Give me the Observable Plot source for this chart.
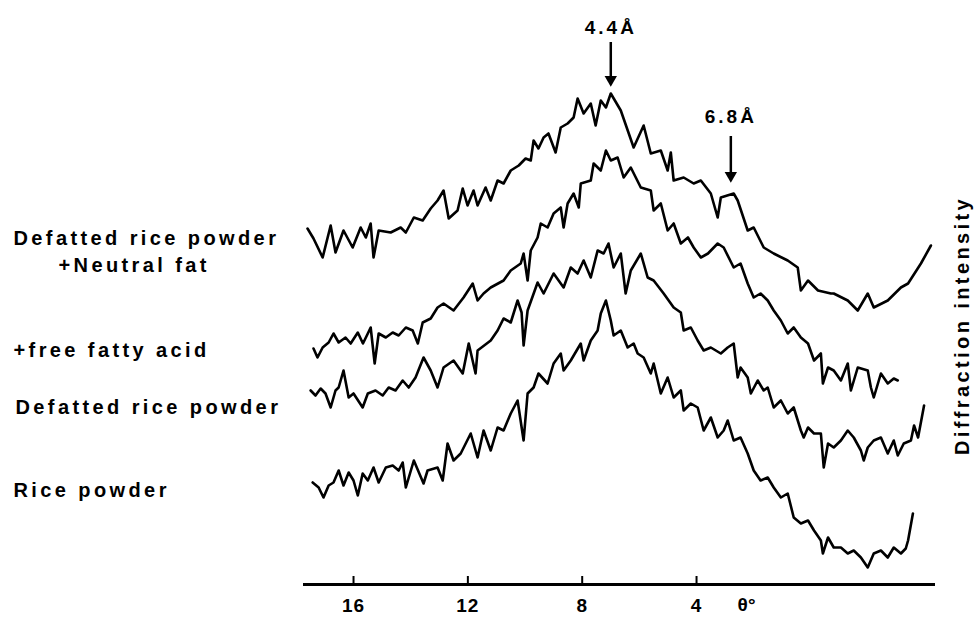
<!DOCTYPE html>
<html>
<head>
<meta charset="utf-8">
<script src="https://cdn.jsdelivr.net/npm/d3@7"></script>
<script src="https://cdn.jsdelivr.net/npm/@observablehq/plot@0.6"></script>
<style>
  html, body { margin: 0; padding: 0; background: #fff; }
  #chart { width: 974px; height: 617px; }
</style>
</head>
<body>
<div id="chart"></div>
<script>
// X-ray diffraction traces: diffraction angle θ (degrees) vs intensity (arbitrary units, offset per sample)

// Defatted rice powder + neutral fat
const neutralFat = [[17.61,356],[17.40,346],[17.08,327],[16.80,359],[16.63,332],[16.35,354],[16.03,337],[15.75,357],[15.57,347],[15.40,361],[15.30,327],[15.12,354],[14.70,352],[14.35,357],[14.17,352],[13.89,367],[13.58,364],[13.30,376],[13.06,384],[12.85,394],[12.67,366],[12.36,374],[12.18,396],[12.01,379],[11.80,394],[11.66,379],[11.38,397],[11.20,384],[10.96,404],[10.75,401],[10.50,414],[10.22,419],[9.98,426],[9.80,424],[9.70,444],[9.53,436],[9.35,447],[9.18,451],[8.93,432],[8.75,457],[8.51,461],[8.30,467],[8.16,486],[7.95,471],[7.70,481],[7.53,459],[7.35,484],[7.17,477],[7.00,491],[6.65,474],[6.20,437],[5.85,459],[5.60,431],[5.25,434],[5.01,414],[4.90,432],[4.80,404],[4.45,407],[4.10,401],[3.85,404],[3.50,391],[3.26,367],[3.15,387],[2.70,391],[2.56,384],[2.21,354],[2.00,357],[1.65,337],[1.30,331],[0.81,324],[0.46,317],[0.35,294],[0.10,304],[-0.25,294],[-0.70,291],[-0.80,291],[-1.29,284],[-1.64,274],[-1.99,291],[-2.20,277],[-2.69,284],[-3.15,297],[-3.40,301],[-3.85,321],[-4.20,339]];

// Defatted rice powder + free fatty acid
const freeFattyAcid = [[17.40,236],[17.26,227],[17.08,237],[16.87,242],[16.70,251],[16.52,242],[16.28,247],[16.10,241],[15.85,252],[15.67,241],[15.50,251],[15.40,257],[15.26,221],[15.12,251],[14.87,247],[14.63,252],[14.42,249],[14.17,257],[13.93,254],[13.75,241],[13.58,262],[13.30,266],[13.06,277],[12.85,281],[12.50,274],[12.15,287],[11.83,301],[11.66,284],[11.45,291],[11.20,297],[10.75,304],[10.50,314],[10.15,321],[10.05,331],[9.91,304],[9.80,334],[9.56,347],[9.45,361],[9.21,357],[9.00,371],[8.75,377],[8.65,357],[8.51,381],[8.30,391],[8.12,377],[8.05,401],[7.70,404],[7.60,421],[7.35,414],[7.17,434],[7.00,424],[6.76,427],[6.55,407],[6.30,417],[5.95,397],[5.60,394],[5.50,374],[5.25,381],[5.01,354],[4.80,361],[4.55,341],[4.30,347],[4.10,337],[3.85,327],[3.60,331],[3.26,341],[3.05,337],[2.70,317],[2.46,321],[2.21,301],[2.00,287],[1.76,291],[1.51,284],[1.30,274],[1.05,264],[0.81,251],[0.60,257],[0.35,247],[0.10,241],[-0.11,224],[-0.35,231],[-0.42,201],[-0.60,217],[-0.80,214],[-1.05,204],[-1.29,221],[-1.40,194],[-1.64,217],[-1.99,214],[-2.10,197],[-2.20,187],[-2.45,211],[-2.69,201],[-2.90,206],[-3.04,204]];

// Defatted rice powder
const defatted = [[17.50,194],[17.33,189],[17.15,196],[16.98,191],[16.80,177],[16.63,194],[16.52,197],[16.35,214],[16.17,187],[16.00,191],[15.68,177],[15.50,191],[15.23,194],[14.98,189],[14.77,197],[14.53,194],[14.28,204],[14.07,197],[13.83,207],[13.55,227],[13.30,214],[13.06,197],[12.85,217],[12.50,224],[12.18,211],[11.97,241],[11.73,211],[11.66,234],[11.20,244],[10.96,254],[10.75,266],[10.50,262],[10.26,284],[10.12,272],[10.05,239],[9.91,274],[9.56,302],[9.35,291],[9.00,311],[8.65,297],[8.40,317],[8.16,311],[7.95,324],[7.70,307],[7.46,334],[7.25,331],[7.08,341],[6.90,317],[6.65,331],[6.48,291],[6.30,314],[5.95,331],[5.71,307],[5.50,304],[5.15,291],[4.80,277],[4.55,272],[4.45,254],[4.20,257],[3.96,244],[3.75,234],[3.50,237],[3.15,231],[2.91,237],[2.70,241],[2.56,207],[2.46,217],[2.21,207],[2.10,191],[1.86,204],[1.65,194],[1.51,197],[1.30,177],[1.05,184],[0.81,171],[0.60,177],[0.35,154],[0.25,147],[0.10,157],[-0.11,151],[-0.35,151],[-0.45,117],[-0.60,141],[-0.80,137],[-1.05,144],[-1.29,154],[-1.50,147],[-1.75,134],[-1.85,124],[-1.99,137],[-2.20,144],[-2.45,147],[-2.69,131],[-2.90,144],[-3.04,129],[-3.25,141],[-3.50,144],[-3.61,159],[-3.75,147],[-3.96,179]];

// Rice powder
const ricePowder = [[17.43,102],[17.22,97],[17.05,87],[16.87,99],[16.70,102],[16.52,114],[16.35,99],[16.17,112],[16.00,104],[15.85,89],[15.68,111],[15.50,104],[15.30,117],[15.12,102],[14.87,117],[14.63,119],[14.42,114],[14.28,122],[14.17,97],[13.89,124],[13.55,101],[13.41,114],[13.06,117],[12.88,104],[12.71,141],[12.50,124],[12.25,131],[11.90,151],[11.66,127],[11.45,154],[11.20,134],[10.96,157],[10.75,154],[10.50,171],[10.26,184],[10.05,144],[9.91,191],[9.70,197],[9.53,211],[9.21,201],[9.00,221],[8.75,231],[8.65,214],[8.40,224],[8.05,241],[7.95,224],[7.70,244],[7.46,254],[7.35,271],[7.17,284],[7.00,264],[6.90,249],[6.65,254],[6.41,237],[6.20,241],[6.06,231],[5.85,227],[5.60,211],[5.50,221],[5.25,191],[5.01,207],[4.80,187],[4.55,194],[4.45,174],[4.20,181],[3.96,177],[3.75,154],[3.50,167],[3.26,147],[3.05,154],[2.91,164],[2.70,144],[2.46,147],[2.21,131],[2.00,114],[1.76,104],[1.51,107],[1.30,97],[1.05,87],[0.81,91],[0.60,67],[0.35,61],[0.10,64],[-0.11,54],[-0.35,44],[-0.42,31],[-0.60,47],[-0.80,37],[-1.05,37],[-1.29,31],[-1.50,34],[-1.75,27],[-1.99,17],[-2.20,31],[-2.45,34],[-2.69,27],[-2.90,37],[-3.15,31],[-3.32,36],[-3.40,44],[-3.57,71]];

// Sample labels and the intensity level each one sits at
const sampleLabels = ["Defatted rice powder", "+Neutral fat", "+free fatty acid", "Defatted rice powder", "Rice powder"];
const sampleLabelLevels = [346, 319, 234, 177, 94];

// Reflection spacings marked with arrows
const peakLabels = ["4.4Å", "6.8Å"];
const peakTheta = [7.0, 2.8];
const peakTip = [502, 406];
const peakTail = [536, 442];
const peakText = [557, 468];

const thetaTicks = [16, 12, 8, 4];

const traces = [
  ...neutralFat.map(([t, v]) => ({sample: "neutralFat", theta: t, intensity: v})),
  ...freeFattyAcid.map(([t, v]) => ({sample: "freeFattyAcid", theta: t, intensity: v})),
  ...defatted.map(([t, v]) => ({sample: "defatted", theta: t, intensity: v})),
  ...ricePowder.map(([t, v]) => ({sample: "ricePowder", theta: t, intensity: v}))
];

const peaks = peakLabels.map((text, i) => ({text, theta: peakTheta[i], tip: peakTip[i], tail: peakTail[i], textAt: peakText[i]}));

const font = "'Liberation Sans', Arial, Helvetica, sans-serif";

// left offsets of the sample names from the plot frame (second line of the first name is indented)
const labelOffsets = [-290, -245, -290, -288, -290];
const labelMarks = sampleLabels.map((text, i) =>
  Plot.text([{text, level: sampleLabelLevels[i]}], {
    y: "level", text: "text", frameAnchor: "left", textAnchor: "start",
    dx: labelOffsets[i], fontSize: 20, fontWeight: "bold", className: "spaced"
  })
);

const chart = Plot.plot({
  width: 974,
  height: 617,
  marginLeft: 303,
  marginRight: 39,
  marginTop: 0,
  marginBottom: 33,
  style: {background: "#fff", color: "#000", fontFamily: font, fontSize: "18px", fontWeight: "bold"},
  x: {type: "linear", domain: [17.75, -4.36]},
  y: {domain: [0, 584], axis: null},
  marks: [
    // baseline of the angle axis with short upward ticks
    Plot.ruleY([0], {stroke: "#000", strokeWidth: 3}),
    Plot.ruleX(thetaTicks, {x: d => d, y1: 0, y2: 8, stroke: "#000", strokeWidth: 2}),
    Plot.axisX(thetaTicks, {tickSize: 0, tickPadding: 14, fontSize: 19, fontWeight: "bold", label: null}),
    Plot.text(["θ°"], {x: 2.25, frameAnchor: "bottom", lineAnchor: "top", dy: 13, fontSize: 19, fontWeight: "bold"}),

    // diffraction traces
    Plot.line(traces, {x: "theta", y: "intensity", z: "sample", stroke: "#000", strokeWidth: 2.6, strokeLinejoin: "round", strokeLinecap: "round"}),

    // reflection markers
    Plot.ruleX(peaks, {x: "theta", y1: "tail", y2: "tip", stroke: "#000", strokeWidth: 2.5, dy: -6}),
    Plot.dot(peaks, {x: "theta", y: "tip", symbol: "triangle", rotate: 180, r: 4.6, fill: "#000", stroke: "none", dy: -3}),
    Plot.text(peaks, {x: "theta", y: "textAt", text: "text", fontSize: 19, fontWeight: "bold", className: "peak"}),

    // sample names in the left margin
    ...labelMarks,

    // vertical axis title
    Plot.text(["Diffraction intensity"], {frameAnchor: "right", textAnchor: "middle", rotate: -90, dx: 27, dy: 33, fontSize: 20, fontWeight: "bold", className: "spaced"})
  ]
});

// widely tracked lettering of the printed labels
d3.select(chart).selectAll(".spaced text").attr("letter-spacing", 3.4);
d3.select(chart).selectAll(".peak text").attr("letter-spacing", 3);
d3.select(chart).selectAll("g[aria-label='x-axis tick label'] text").attr("letter-spacing", 1);

document.getElementById("chart").appendChild(chart);
</script>
</body>
</html>
